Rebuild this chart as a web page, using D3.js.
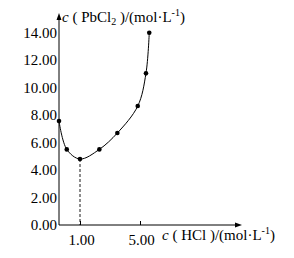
<!DOCTYPE html>
<html><head><meta charset="utf-8">
<script src="https://cdn.jsdelivr.net/npm/d3@7"></script>
<style>body{margin:0;background:#fff}svg{display:block}text{font-family:"Liberation Serif","Times New Roman",serif;fill:#000}</style>
</head><body>
<script>
const hcl = [0, 0.37, 1.00, 2.29, 3.49, 4.85, 5.40, 5.62];
const pbcl2 = [7.56, 5.50, 4.80, 5.50, 6.69, 8.65, 11.03, 13.98];
const yTicks = [0, 2, 4, 6, 8, 10, 12, 14];
const xTicks = [1, 5];
const minIndex = 2;

const W = 294, H = 258;
const svg = d3.select("body").append("svg").attr("width", W).attr("height", H);
const x = d3.scaleLinear().domain([0, 1, 5, 11.7]).range([59, 80, 140, 240]);
const y = d3.scaleLinear().domain([0, 14]).range([225, 32.5]);
const x0 = x(0), y0 = y(0);

// axes lines with arrows
svg.append("line").attr("x1", x0).attr("x2", x0).attr("y1", y0).attr("y2", 16).attr("stroke", "#000").attr("stroke-width", 1);
svg.append("path").attr("d", `M${x0},13 L${x0-2.5},20 L${x0+2.5},20 Z`).attr("fill", "#000");
svg.append("line").attr("x1", x0).attr("x2", 238).attr("y1", y0).attr("y2", y0).attr("stroke", "#000").attr("stroke-width", 1);
svg.append("path").attr("d", `M242,${y0} L235,${y0-2.5} L235,${y0+2.5} Z`).attr("fill", "#000");

// y axis labels
const ya = svg.append("g").attr("transform", `translate(${x0},0)`)
  .call(d3.axisLeft(y).tickValues(yTicks).tickSize(0).tickPadding(2).tickFormat(d3.format(".2f")));
ya.select(".domain").remove();
ya.selectAll("text").attr("font-size", 15).attr("font-family", "Liberation Serif");

// x axis ticks
const xa = svg.append("g").attr("transform", `translate(0,${y0})`)
  .call(d3.axisBottom(x).tickValues(xTicks).tickSizeInner(-4).tickSizeOuter(0).tickPadding(9).tickFormat(d3.format(".2f")));
xa.select(".domain").remove();
xa.selectAll(".tick line").attr("stroke", "#000");
xa.selectAll("text").attr("font-size", 15).attr("font-family", "Liberation Serif").attr("dx", 1);

// dashed line at minimum
svg.append("line").attr("x1", x(hcl[minIndex])).attr("x2", x(hcl[minIndex]))
  .attr("y1", y(pbcl2[minIndex])).attr("y2", y0)
  .attr("stroke", "#000").attr("stroke-width", 0.9).attr("stroke-dasharray", "3,2");

// curve
const pts = hcl.map((v, i) => [x(v), y(pbcl2[i])]);
svg.append("path").attr("d", d3.line().curve(d3.curveCatmullRom.alpha(0.5))(pts))
  .attr("fill", "none").attr("stroke", "#000").attr("stroke-width", 1);
svg.selectAll("circle.pt").data(pts).enter().append("circle")
  .attr("cx", d => d[0]).attr("cy", d => d[1]).attr("r", 2.3).attr("fill", "#000");

// axis titles
function title(xp, yp, inner) {
  const t = svg.append("text").attr("x", xp).attr("y", yp).attr("font-size", 15);
  t.append("tspan").attr("font-style", "italic").text("c");
  t.append("tspan").text(" ( " + inner[0]);
  if (inner[1]) t.append("tspan").attr("font-size", 10).attr("dy", 3).text(inner[1]);
  t.append("tspan").attr("dy", inner[1] ? -3 : 0).text(" )/(mol\u00B7L");
  t.append("tspan").attr("font-size", 10).attr("dy", -6).text("-1");
  t.append("tspan").attr("dy", 6).text(")");
}
title(62, 22, ["PbCl", "2"]);
title(162, 240, ["HCl", null]);
</script>
</body></html>
